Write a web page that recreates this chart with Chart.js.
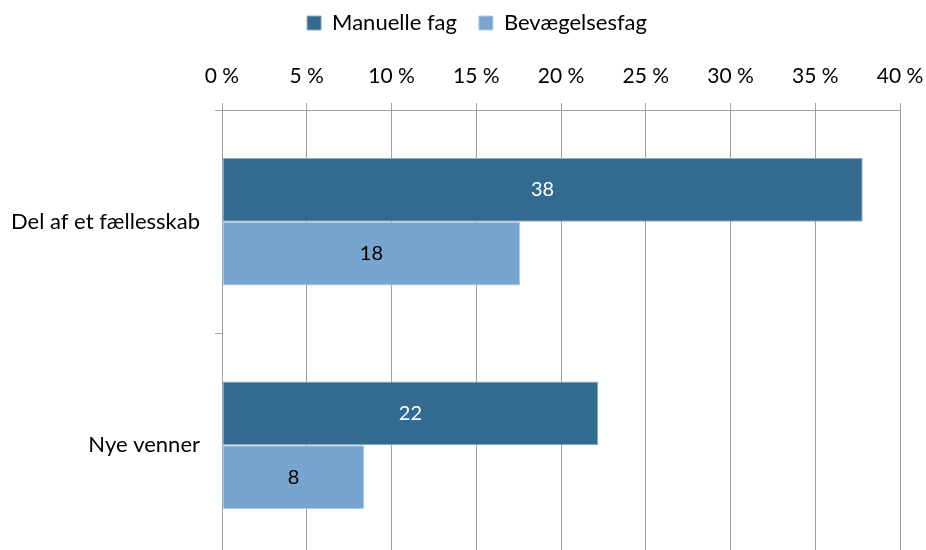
<!DOCTYPE html>
<html>
<head>
<meta charset="utf-8">
<script src="https://cdn.jsdelivr.net/npm/chart.js@4.4.1/dist/chart.umd.min.js"></script>
<style>
html,body{margin:0;padding:0;background:#fff;overflow:hidden;}
canvas{display:block;}
</style>
</head>
<body>
<canvas id="c" width="926" height="557"></canvas>
<script>
const categories = ["Del af et fællesskab", "Nye venner"];
const seriesNames = ["Manuelle fag", "Bevægelsesfag"];
const manuelleFag = [37.8, 22.2];
const bevaegelsesfag = [17.6, 8.4];
const xTicks = [0, 5, 10, 15, 20, 25, 30, 35, 40];

const FONT = "Lato, 'Liberation Sans', sans-serif";

const labelPlugin = {
  id: 'barLabels',
  afterLayout(chart) {
    const lg = chart.legend;
    if (lg) { lg.left += 27; lg.right += 27; }
  },
  afterDatasetsDraw(chart) {
    const ctx = chart.ctx;
    ctx.save();
    ctx.font = "20px " + FONT;
    ctx.textAlign = 'center';
    ctx.textBaseline = 'middle';
    chart.data.datasets.forEach((ds, di) => {
      const meta = chart.getDatasetMeta(di);
      meta.data.forEach((bar, i) => {
        const cx = (bar.x + bar.base) / 2;
        ctx.fillStyle = di === 0 ? '#ffffff' : '#000000';
        ctx.fillText(String(Math.round(ds.data[i])), cx, bar.y);
      });
    });
    ctx.restore();
  }
};

new Chart(document.getElementById('c'), {
  type: 'bar',
  data: {
    labels: categories,
    datasets: [
      { label: seriesNames[0], data: manuelleFag, backgroundColor: '#336a8f', borderColor: '#8aaac4', borderWidth: 1, borderSkipped: false, categoryPercentage: 0.571, barPercentage: 1.0 },
      { label: seriesNames[1], data: bevaegelsesfag, backgroundColor: '#78a5cd', borderColor: '#b0cbe2', borderWidth: 1, borderSkipped: false, categoryPercentage: 0.571, barPercentage: 1.0 }
    ]
  },
  options: {
    indexAxis: 'y',
    responsive: false,
    animation: false,
    layout: { padding: { left: 0, right: 26, top: -10, bottom: 0 } },
    plugins: {
      legend: {
        position: 'top',
        labels: { font: { family: FONT, size: 22 }, color: '#000', boxWidth: 14, boxHeight: 14, padding: 22 }
      },
      tooltip: { enabled: false }
    },
    scales: {
      x: {
        position: 'top',
        min: 0, max: 40,
        afterBuildTicks(scale) { scale.ticks = xTicks.map(v => ({ value: v })); },
        afterFit(scale) { scale.height = 66; scale.paddingLeft = 0; scale.paddingRight = 0; },
        ticks: { callback: v => v + ' %', font: { family: FONT, size: 21 }, color: '#000', padding: 14, maxRotation: 0 },
        grid: { color: '#a0a0a0', lineWidth: 1, tickLength: 7, drawTicks: true },
        border: { color: '#a0a0a0', width: 1 }
      },
      y: {
        afterFit(scale) { scale.width = 222; scale.paddingTop = 0; scale.paddingBottom = 0; },
        ticks: { font: { family: FONT, size: 22 }, color: '#000', padding: 15 },
        grid: { drawOnChartArea: false, drawTicks: true, tickLength: 7, color: '#a0a0a0', offset: true },
        border: { color: '#a0a0a0', width: 1 }
      }
    }
  },
  plugins: [labelPlugin]
});
</script>
</body>
</html>
